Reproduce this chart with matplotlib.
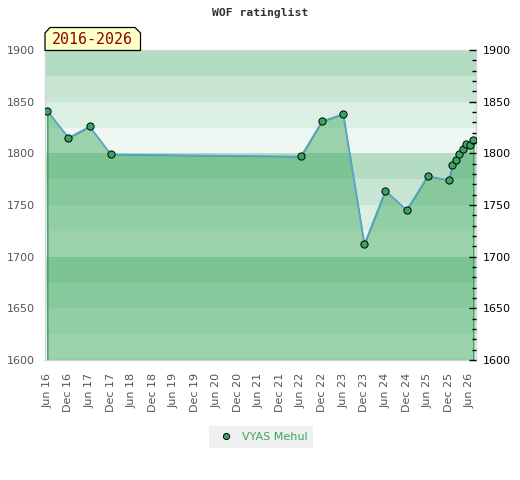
import pandas as pd
import matplotlib
matplotlib.use('Agg')
import matplotlib.pyplot as plt
import matplotlib.dates as mdates
from matplotlib.patches import Polygon
from matplotlib.ticker import MultipleLocator

# Rating list dates and ratings
dates = ['2016-06-01', '2016-12-01', '2017-06-01', '2017-12-01',
         '2022-06-01', '2022-12-01', '2023-06-01', '2023-12-01',
         '2024-06-01', '2024-12-01', '2025-06-01', '2025-12-01',
         '2026-01-01', '2026-02-01', '2026-03-01', '2026-04-01',
         '2026-05-01', '2026-06-01', '2026-07-01']
ratings = [1841, 1815, 1826, 1799,
           1797, 1831, 1838, 1712,
           1764, 1745, 1778, 1774,
           1789, 1794, 1799, 1804,
           1809, 1808, 1813]
player = 'VYAS Mehul'
title = 'WOF ratinglist'
period = '2016-2026'

x = mdates.date2num(pd.to_datetime(dates))
ymin, ymax = 1600, 1900

fig = plt.figure(figsize=(5.2, 4.8), dpi=100)
W, H = 520, 480
ax = fig.add_axes([45 / W, 1 - 360 / H, (476 - 45) / W, 310 / H])

# Background bands, four shades repeating every 100 points
band_colors = ['#eef7f1', '#dbefe3', '#c8e6d3', '#b3dcc2']
for i, lo in enumerate(range(ymin, ymax, 25)):
    ax.axhspan(lo, lo + 25, color=band_colors[i % 4], zorder=0, lw=0)

ax.fill_between(x, ratings, ymin, facecolor=(65 / 255, 170 / 255, 98 / 255, 0.48),
                edgecolor='#3a9e5c', linewidth=1, zorder=1)
ax.plot(x, ratings, color='#5fa3da', lw=1.1, zorder=2)
ax.plot(x, ratings, 'o', ms=5.2, mfc='#3aa462', mec='black', mew=0.7,
        zorder=3, label=player)

ax.set_ylim(ymin, ymax)
ax.set_xlim(mdates.date2num(pd.Timestamp('2016-05-12')),
            mdates.date2num(pd.Timestamp('2026-07-24')))

ticks = pd.date_range('2016-06-01', '2026-06-01', freq='6MS')
ax.set_xticks(mdates.date2num(ticks))
ax.set_xticklabels([t.strftime('%b %y') for t in ticks], rotation=90)
ax.tick_params(axis='x', length=0, pad=9, labelsize=8, labelcolor='#545454')
ax.set_yticks(range(ymin, ymax + 1, 50))
ax.tick_params(axis='y', length=0, pad=7, labelsize=8, labelcolor='#545454')

for s in ax.spines.values():
    s.set_color('#d4d4d4')
    s.set_linewidth(1)

ax2 = ax.twinx()
ax2.set_ylim(ymin, ymax)
ax2.set_yticks(range(ymin, ymax + 1, 50))
ax2.yaxis.set_minor_locator(MultipleLocator(10))
ax2.tick_params(axis='y', which='major', direction='in', length=5, width=1,
                pad=5, labelsize=8, colors='black')
ax2.tick_params(axis='y', which='minor', direction='in', length=3, width=1,
                colors='black')
for s in ax2.spines.values():
    s.set_visible(False)

fig.text(260 / W, 1 - 13 / H, title, ha='center', va='center',
         family='DejaVu Sans Mono', weight='bold', fontsize=8.2, color='#333333')

# Period label with chamfered top corners
box = [(45, 50.5), (45, 33), (50, 27.5), (135, 27.5), (140.5, 33), (140.5, 50.5)]
fig.patches.append(Polygon([(px / W, 1 - py / H) for px, py in box], closed=True,
                           facecolor='#ffffc8', edgecolor='black', lw=0.9,
                           transform=fig.transFigure, figure=fig, zorder=5))
fig.text(92 / W, 1 - 40 / H, period, ha='center', va='center',
         family='DejaVu Sans Mono', fontsize=10.7, color='#8b0000', zorder=6)

leg = fig.legend(loc='center', bbox_to_anchor=(261 / W, 1 - 437 / H),
                 frameon=True, facecolor='#f0f0f0', edgecolor='none',
                 fancybox=False, fontsize=8, labelcolor='#3aa65e',
                 handletextpad=0.4, borderpad=0.5, markerscale=0.85)
leg.get_frame().set_alpha(1)

fig.savefig('out.png', dpi=100)
